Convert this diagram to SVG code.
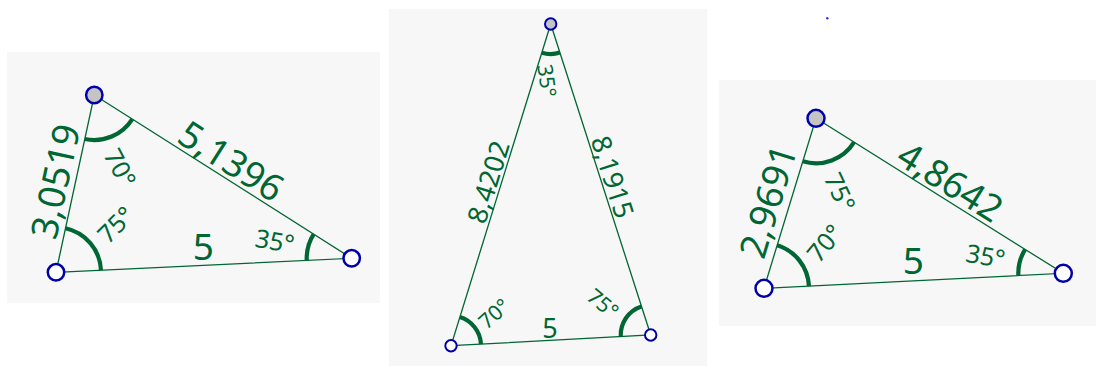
<svg xmlns="http://www.w3.org/2000/svg" width="1096" height="366" viewBox="0 0 1096 366">
<style>
.bg{fill:#f7f7f7}
.edge{stroke:#006633;stroke-width:1.3;fill:none}
.arc{stroke:#006633;stroke-width:4.2;fill:none}
.pt{fill:#ffffff;stroke:#0000aa;stroke-width:2.5}
.pt2{fill:#ffffff;stroke:#0000aa;stroke-width:2}
.top{fill:#c4c4c4}
text{font-family:"Noto Sans","DejaVu Sans",sans-serif;fill:#006633;text-anchor:middle;dominant-baseline:central}
.big{font-size:37px}
.ang{font-size:25px}
.mid{font-size:27px}
.sm{font-size:21px}
</style>
<rect class="bg" x="7" y="52" width="373" height="251"/>
<rect class="bg" x="389" y="9" width="318" height="357"/>
<rect class="bg" x="719" y="80" width="377" height="246"/>

<g id="connectors">
  <path class="edge" d="M56 272.3 L351.7 258.3 L94.3 95 Z"/>
  <path class="edge" d="M451 345.7 L650.7 335 L550.7 24 Z"/>
  <path class="edge" d="M764 288.3 L1063.3 273.3 L816 118.3 Z"/>
</g>

<g id="angles">
  <path class="arc" d="M100.95 270.2 A45 45 0 0 0 65.5 228.3"/>
  <path class="arc" d="M132.3 119.1 A45 45 0 0 1 84.8 139"/>
  <path class="arc" d="M306.75 260.4 A45 45 0 0 1 313.7 234.2"/>
  <path class="arc" d="M480.96 344.09 A30 30 0 0 0 459.88 317.04"/>
  <path class="arc" d="M620.74 336.61 A30 30 0 0 1 641.52 306.44"/>
  <path class="arc" d="M559.88 52.56 A30 30 0 0 1 541.82 52.66"/>
  <path class="arc" d="M808.94 286.05 A45 45 0 0 0 777.16 245.27"/>
  <path class="arc" d="M854.12 142.2 A45 45 0 0 1 802.84 161.33"/>
  <path class="arc" d="M1018.36 275.55 A45 45 0 0 1 1025.18 249.4"/>
</g>

<g id="labels">
  <text class="big" transform="translate(54 181) rotate(-77.8)">3,0519</text>
  <text class="big" transform="translate(232 160) rotate(32.4)">5,1396</text>
  <text class="big" x="203.3" y="245">5</text>
  <text class="ang" transform="translate(115 224) rotate(-45)">75°</text>
  <text class="ang" transform="translate(121 167.5) rotate(62)">70°</text>
  <text class="ang" transform="translate(275 240) rotate(10)">35°</text>

  <text class="mid" transform="translate(487.5 181.7) rotate(-72.8)">8,4202</text>
  <text class="mid" transform="translate(613.3 176.7) rotate(72.2)">8,1915</text>
  <text class="mid" x="550" y="327.5">5</text>
  <text class="sm" transform="translate(493.7 313.3) rotate(-42)">70°</text>
  <text class="sm" transform="translate(603.3 303.3) rotate(40)">75°</text>
  <text class="sm" transform="translate(547.5 80.8) rotate(82)">35°</text>

  <text class="big" transform="translate(766.7 200.8) rotate(-73)">2,9691</text>
  <text class="big" transform="translate(951 180.8) rotate(32.1)">4,8642</text>
  <text class="big" x="913.3" y="259">5</text>
  <text class="ang" transform="translate(840.8 191.7) rotate(65)">75°</text>
  <text class="ang" transform="translate(824 242.5) rotate(-50)">70°</text>
  <text class="ang" transform="translate(985.8 255) rotate(10)">35°</text>
</g>

<g id="p1-A"><circle class="pt" cx="56" cy="272.3" r="8.2"/></g>
<g id="p1-B"><circle class="pt" cx="351.7" cy="258.3" r="8.2"/></g>
<g id="p1-C"><circle class="pt top" cx="94.3" cy="95" r="8.2"/></g>
<g id="p2-A"><circle class="pt2" cx="451" cy="345.7" r="5.7"/></g>
<g id="p2-B"><circle class="pt2" cx="650.7" cy="335" r="5.7"/></g>
<g id="p2-C"><circle class="pt2 top" cx="550.7" cy="24" r="5.7"/></g>
<g id="p3-A"><circle class="pt" cx="764" cy="288.3" r="8.5"/></g>
<g id="p3-B"><circle class="pt" cx="1063.3" cy="273.3" r="8.5"/></g>
<g id="p3-C"><circle class="pt top" cx="816" cy="118.3" r="8.5"/></g>
<g id="dot"><circle cx="827.3" cy="18.3" r="1.2" fill="#3333cc"/></g>
</svg>
